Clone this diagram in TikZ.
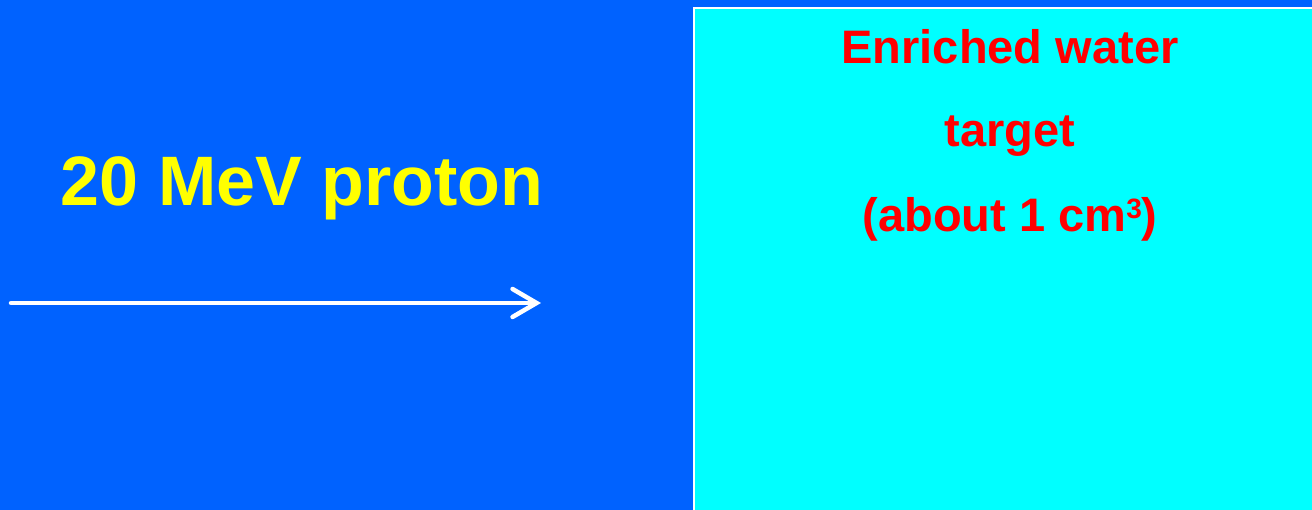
\documentclass[tikz,border=0pt]{standalone}
\usepackage{fontspec}
\setmainfont{Liberation Sans}
\usetikzlibrary{arrows.meta}
\definecolor{bgblue}{RGB}{0,98,255}
\definecolor{tcyan}{RGB}{0,255,255}
\definecolor{tyellow}{RGB}{255,255,0}
\definecolor{tred}{RGB}{255,0,0}
\newcommand{\supthree}{\raisebox{13pt}{\fontsize{28}{28}\selectfont\bfseries 3}}
\begin{document}
\begin{tikzpicture}[x=1pt,y=1pt,
  beamlabel/.style={font=\fontsize{70}{84}\selectfont\bfseries, text=tyellow, anchor=base, inner sep=0pt},
  targetlabel/.style={font=\fontsize{47}{56}\selectfont\bfseries, text=tred, anchor=base, inner sep=0pt},
  beam/.style={draw=white, line width=4.5pt, line cap=round, -{Straight Barb[length=24pt,width=28pt,line cap=round]}}]
  \useasboundingbox (0,0) rectangle (1312,510);
  \fill[bgblue] (0,0) rectangle (1312,510);
  \fill[tcyan] (694,-10) rectangle (1330,502);
  \draw[white, line width=2pt] (694,-10) -- (694,502) -- (1330,502);
  \node[beamlabel] (proton) at (302,304) {20 MeV proton};
  \node[targetlabel] (t1) at (1010,446) {Enriched water};
  \node[targetlabel] (t2) at (1010,363) {target};
  \node[targetlabel] (t3) at (1010,278) {(about 1 cm\supthree)};
  \coordinate (bstart) at (11,207);
  \coordinate (bend) at (541,207);
  \draw[beam] (bstart) -- (bend);
\end{tikzpicture}
\end{document}
